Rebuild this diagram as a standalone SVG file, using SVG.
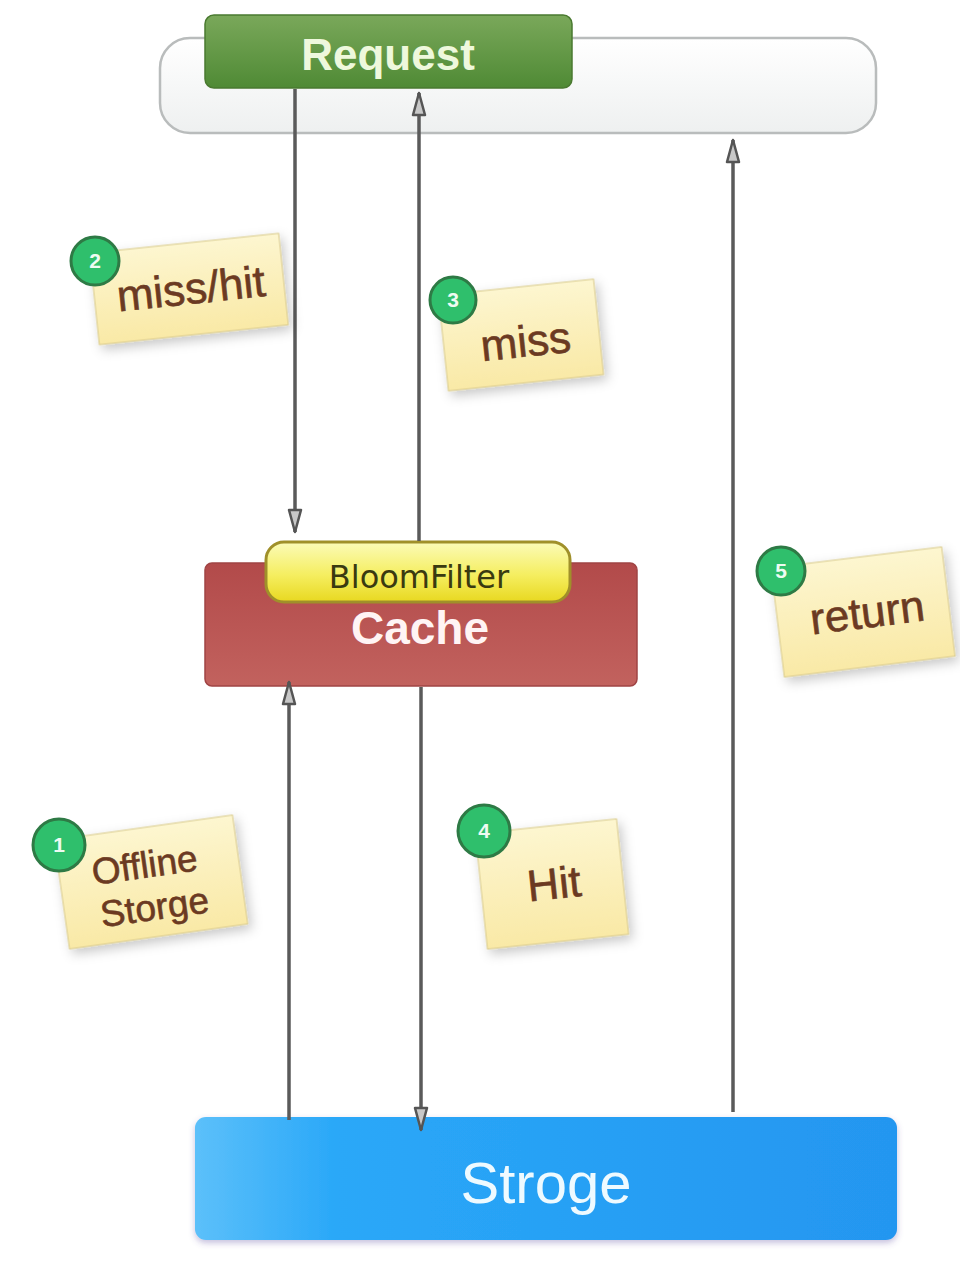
<svg xmlns="http://www.w3.org/2000/svg" width="960" height="1266" viewBox="0 0 960 1266">
<defs>
<style>
.conn{stroke:#5a5a5a;stroke-width:3.5;fill:none}
.note{fill:url(#noteG);stroke:#d8c98a;stroke-width:1}
.notetxt{font-family:"Liberation Sans",Arial,sans-serif;fill:#6b3a22;font-size:44px;text-anchor:middle;stroke:#6b3a22;stroke-width:0.6}
.notetxt.sm{font-size:37px}
.badge{fill:#2fbf6c;stroke:#2e7a45;stroke-width:3}
.badgetxt{font-family:"Liberation Sans",Arial,sans-serif;font-weight:bold;fill:#eefbf2;font-size:21px;text-anchor:middle}
</style>
<linearGradient id="noteG" x1="0" y1="0" x2="0" y2="1">
<stop offset="0" stop-color="#fdf6d0"/>
<stop offset="1" stop-color="#f9e9a6"/>
</linearGradient>
<linearGradient id="pillG" x1="0" y1="0" x2="0" y2="1">
<stop offset="0" stop-color="#ffffff"/>
<stop offset="1" stop-color="#eef0f0"/>
</linearGradient>
<linearGradient id="reqG" x1="0" y1="0" x2="0" y2="1">
<stop offset="0" stop-color="#7aa85a"/>
<stop offset="1" stop-color="#4f8a35"/>
</linearGradient>
<linearGradient id="cacheG" x1="0" y1="0" x2="0" y2="1">
<stop offset="0" stop-color="#b24a4a"/>
<stop offset="1" stop-color="#c2625e"/>
</linearGradient>
<linearGradient id="bloomG" x1="0" y1="0" x2="0" y2="1">
<stop offset="0" stop-color="#fbfbb8"/>
<stop offset="0.55" stop-color="#f5ee60"/>
<stop offset="1" stop-color="#e8d820"/>
</linearGradient>
<linearGradient id="storG" x1="0" y1="0" x2="1" y2="0">
<stop offset="0" stop-color="#5cc0fa"/>
<stop offset="0.2" stop-color="#2aa8f8"/>
<stop offset="1" stop-color="#2496f0"/>
</linearGradient>
<filter id="sh" x="-20%" y="-20%" width="150%" height="150%">
<feDropShadow dx="3" dy="5" stdDeviation="6" flood-color="#000" flood-opacity="0.22"/>
</filter>
<filter id="sh2" x="-10%" y="-20%" width="120%" height="160%">
<feDropShadow dx="0" dy="3" stdDeviation="3" flood-color="#5a4aa0" flood-opacity="0.35"/>
</filter>
<marker id="ah" markerWidth="26" markerHeight="16" refX="24" refY="8" orient="auto" markerUnits="userSpaceOnUse" viewBox="0 0 26 16">
<path d="M24,8 L2,2 L2,14 Z" fill="#c8c8c8" stroke="#555" stroke-width="2.5" stroke-linejoin="round"/>
</marker>
</defs>
<rect width="960" height="1266" fill="#ffffff"/>

<g id="request">
<rect x="160" y="38" width="716" height="95" rx="30" fill="url(#pillG)" stroke="#b9bcbc" stroke-width="2.5"/>
<rect x="205" y="15" width="367" height="73" rx="9" fill="url(#reqG)" stroke="#4a7a30" stroke-width="1.5"/>
<text x="388" y="70" font-family="Liberation Sans,Arial,sans-serif" font-weight="bold" font-size="44" fill="#eef8dc" text-anchor="middle">Request</text>
</g>

<g id="cache">
<rect x="205" y="563" width="432" height="123" rx="7" fill="url(#cacheG)" stroke="#a04444" stroke-width="1.5"/>
<rect x="266" y="542" width="304" height="60" rx="18" fill="url(#bloomG)" stroke="#a0902a" stroke-width="3"/>
<text x="419" y="588" font-family="DejaVu Sans,Verdana,sans-serif" font-size="32" fill="#3a3a10" text-anchor="middle">BloomFilter</text>
<text x="420" y="644" font-family="Liberation Sans,Arial,sans-serif" font-weight="bold" font-size="46" fill="#fff4f4" text-anchor="middle">Cache</text>
</g>

<g id="storage">
<rect x="195" y="1117" width="702" height="123" rx="11" fill="url(#storG)" filter="url(#sh2)"/>
<text x="546" y="1203" font-family="Liberation Sans,Arial,sans-serif" font-size="58" fill="#eefaff" text-anchor="middle">Stroge</text>
</g>

<g id="connectors">
<line class="conn" x1="295" y1="89" x2="295" y2="532" marker-end="url(#ah)"/>
<line class="conn" x1="419" y1="541" x2="419" y2="93" marker-end="url(#ah)"/>
<line class="conn" x1="733" y1="1112" x2="733" y2="140" marker-end="url(#ah)"/>
<line class="conn" x1="289" y1="1120" x2="289" y2="682" marker-end="url(#ah)"/>
<line class="conn" x1="421" y1="687" x2="421" y2="1130" marker-end="url(#ah)"/>
</g>

<g id="note2">
<g transform="translate(189,289) rotate(-6)">
<rect class="note" x="-95" y="-46" width="190" height="92" filter="url(#sh)"/>
<text class="notetxt" x="2" y="15">miss/hit</text>
</g>
<circle class="badge" cx="95" cy="261" r="24"/>
<text class="badgetxt" x="95" y="268">2</text>
</g>

<g id="note3">
<g transform="translate(521,335) rotate(-6)">
<rect class="note" x="-78" y="-48" width="156" height="96" filter="url(#sh)"/>
<text class="notetxt" x="4" y="22">miss</text>
</g>
<circle class="badge" cx="453" cy="300" r="23"/>
<text class="badgetxt" x="453" y="307">3</text>
</g>

<g id="note5">
<g transform="translate(863,612) rotate(-7)">
<rect class="note" x="-86" y="-55" width="172" height="110" filter="url(#sh)"/>
<text class="notetxt" x="4" y="16">return</text>
</g>
<circle class="badge" cx="781" cy="571" r="24"/>
<text class="badgetxt" x="781" y="578">5</text>
</g>

<g id="note1">
<g transform="translate(151,882) rotate(-8)">
<rect class="note" x="-90" y="-55" width="180" height="110" filter="url(#sh)"/>
<text class="notetxt sm" x="-4" y="-5">Offline</text>
<text class="notetxt sm" x="0" y="38">Storge</text>
</g>
<circle class="badge" cx="59" cy="845" r="26"/>
<text class="badgetxt" x="59" y="852">1</text>
</g>

<g id="note4">
<g transform="translate(552,884) rotate(-6)">
<rect class="note" x="-71" y="-58" width="142" height="116" filter="url(#sh)"/>
<text class="notetxt" x="2" y="15">Hit</text>
</g>
<circle class="badge" cx="484" cy="831" r="26"/>
<text class="badgetxt" x="484" y="838">4</text>
</g>
</svg>
